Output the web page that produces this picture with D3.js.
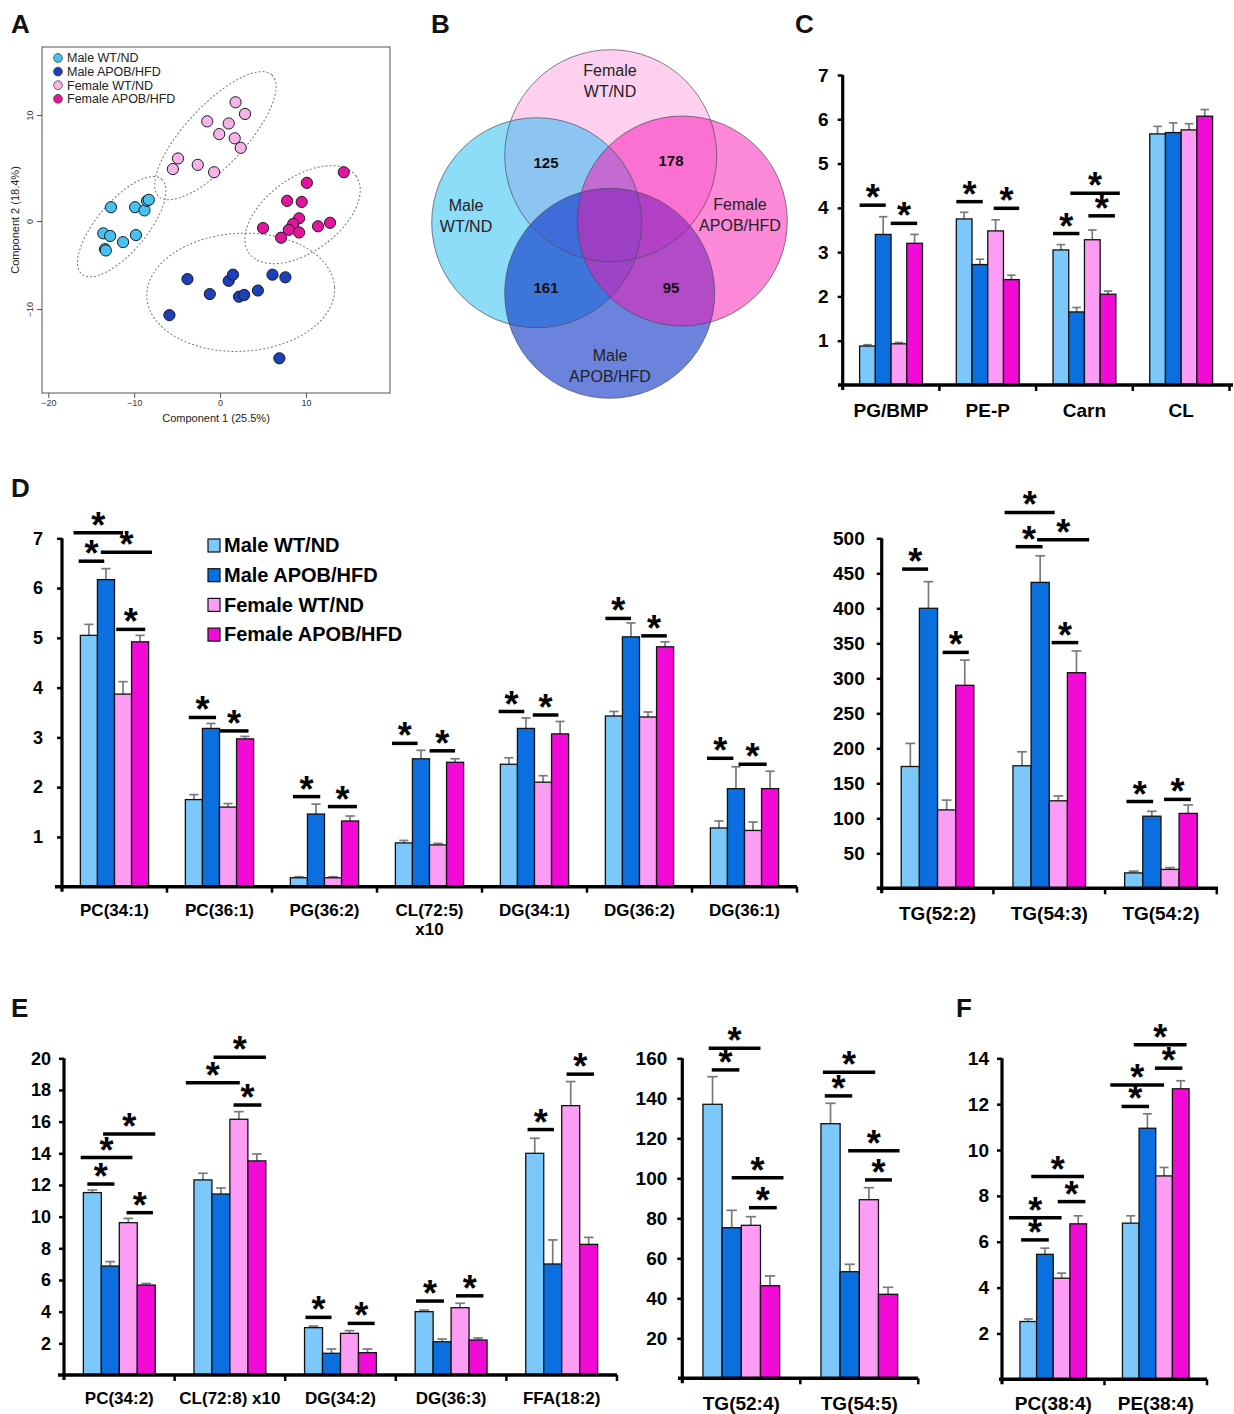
<!DOCTYPE html>
<html><head><meta charset="utf-8">
<script src="https://cdn.jsdelivr.net/npm/d3@7"></script>
<style>
body{margin:0;background:#fff;}
svg{display:block;font-family:"Liberation Sans",Arial,sans-serif;}
</style></head><body>
<svg id="fig" width="1234" height="1414"></svg>
<script>
// ---------------- DATA ----------------
const groups = ["Male WT/ND","Male APOB/HFD","Female WT/ND","Female APOB/HFD"];
const barColors = ["#7cc8fa","#0b6fe0","#fd9cf5","#f20ad6"];
const pcaColors = ["#45c3ee","#1c40b8","#f7b3e6","#e3159b"];

// Panel A : PCA scores [component1, component2]
const pcaMaleWT = [[-12.7,1.3],[-9.9,1.3],[-8.8,1.0],[-8.5,1.9],[-8.3,2.0],[-13.6,-1.4],[-12.8,-1.7],[-9.8,-1.6],[-11.3,-2.4],[-13.4,-3.2],[-13.3,-3.35]];
const pcaMaleAPOB = [[-3.8,-6.6],[-1.2,-8.3],[1.0,-6.8],[1.5,-6.1],[2.2,-8.6],[2.8,-8.4],[4.4,-7.9],[6.1,-6.1],[7.6,-6.4],[-5.9,-10.7],[6.9,-15.6]];
const pcaFemaleWT = [[1.8,11.2],[2.9,10.1],[-1.5,9.4],[1.0,9.2],[-0.1,8.2],[1.7,7.8],[2.4,6.9],[-4.9,5.9],[-5.5,4.9],[-2.6,5.3],[-0.7,4.6]];
const pcaFemaleAPOB = [[14.4,4.6],[10.1,3.6],[7.8,1.9],[9.5,1.8],[9.2,0.25],[8.5,-0.34],[8.0,-1.0],[9.2,-1.3],[11.4,-0.6],[12.8,-0.2],[5.0,-0.8],[7.1,-1.9]];
const pcaXTicks = [-20,-10,0,10];
const pcaYTicks = [-10,0,10];
// ellipse centres in component units (group index, c1, c2)
const pcaEllipseCentres = [[0,-11.45,-0.65],[2,-0.55,8.05],[3,9.6,0.6],[1,2.4,-8.1]];

// Panel B : Venn
const vennSets = ["Male\nWT/ND","Female\nWT/ND","Male\nAPOB/HFD","Female\nAPOB/HFD"];
const vennCounts = [125,178,161,95];

// Panel C
const cCats = ["PG/BMP","PE-P","Carn","CL"];
const cMeans = [[0.88,3.4,0.93,3.2],[3.75,2.72,3.48,2.38],[3.05,1.65,3.28,2.05],[5.67,5.7,5.76,6.07]];
const cErrs = [[0.03,0.4,0.03,0.2],[0.15,0.12,0.25,0.1],[0.12,0.1,0.22,0.07],[0.17,0.22,0.14,0.15]];
const cTicks = [1,2,3,4,5,6,7];
// significance: [category, from-slot, to-slot, value]
const cSigs = [[0,0,1.66,4.06],[0,1.98,3.66,3.65],[1,0,1.68,4.14],[1,2.38,4.0,3.99],[2,0,1.68,3.42],[2,1.1,4.25,4.33],[2,2.25,3.94,3.82]];

// Panel D left
const dCats = ["PC(34:1)","PC(36:1)","PG(36:2)","CL(72:5)\nx10","DG(34:1)","DG(36:2)","DG(36:1)"];
const dMeans = [[5.05,6.17,3.87,4.92],[1.75,3.18,1.6,2.97],[0.18,1.46,0.18,1.32],[0.88,2.57,0.84,2.5],[2.46,3.18,2.1,3.07],[3.43,5.02,3.41,4.82],[1.18,1.97,1.13,1.97]];
const dErrs = [[0.22,0.22,0.25,0.13],[0.1,0.1,0.07,0.05],[0.02,0.2,0.02,0.1],[0.05,0.17,0.03,0.07],[0.13,0.21,0.13,0.25],[0.09,0.28,0.1,0.1],[0.14,0.44,0.17,0.35]];
const dTicks = [1,2,3,4,5,6,7];
const dSigs = [[0,-0.4,2.5,7.11],[0,-0.1,1.4,6.54],[0,1.2,4.2,6.72],[0,2.1,3.8,5.17],[1,0.2,1.8,3.4],[1,2.0,3.7,3.13],[2,0.15,1.75,1.81],[2,2.2,3.9,1.61],[3,-0.2,1.3,2.88],[3,2.0,3.5,2.73],[4,-0.1,1.4,3.52],[4,1.9,3.4,3.45],[5,0,1.5,5.39],[5,2.1,3.6,5.04],[6,-0.2,1.35,2.58],[6,1.65,3.3,2.46]];

// Panel D right
const dtCats = ["TG(52:2)","TG(54:3)","TG(54:2)"];
const dtMeans = [[174,400,112,290],[175,437,125,308],[22,103,27,107]];
const dtErrs = [[33,38,14,36],[20,38,7,31],[2.5,7,2.5,12]];
const dtTicks = [50,100,150,200,250,300,350,400,450,500];
const dtSigs = [[0,0.05,1.48,456],[0,2.28,3.72,337],[1,-0.46,2.3,537],[1,0.15,1.63,488],[1,1.33,4.2,498],[1,2.13,3.6,351],[2,0.1,1.57,124],[2,2.17,3.65,127]];

// Panel E left
const eCats = ["PC(34:2)","CL(72:8) x10","DG(34:2)","DG(36:3)","FFA(18:2)"];
const eMeans = [[11.52,6.88,9.62,5.68],[12.32,11.43,16.15,13.52],[2.99,1.37,2.63,1.41],[4.0,2.1,4.25,2.21],[14.0,7.01,17.01,8.25]];
const eErrs = [[0.16,0.28,0.27,0.1],[0.42,0.38,0.48,0.44],[0.1,0.27,0.17,0.23],[0.1,0.17,0.28,0.13],[0.95,1.52,1.52,0.44]];
const eTicks = [2,4,6,8,10,12,14,16,18,20];
const eSigs = [[0,0.22,1.73,12.06],[0,-0.15,2.73,13.73],[0,1.1,4.0,15.22],[0,2.4,3.87,10.25],[1,-0.45,2.55,18.46],[1,1.09,4.0,20.06],[1,2.2,3.75,17.05],[2,0.05,1.5,3.64],[2,2.4,3.9,3.26],[3,0.05,1.6,4.67],[3,2.27,3.8,5.0],[4,0.1,1.57,15.5],[4,2.27,3.8,19.0]];

// Panel E right
const etCats = ["TG(52:4)","TG(54:5)"];
const etMeans = [[137,75.3,76.5,46.3],[127.3,53.3,89.3,42]];
const etErrs = [[13.8,8.7,4.3,4.9],[10.2,3.7,6,3.5]];
const etTicks = [20,40,60,80,100,120,140,160];
const etSigs = [[0,0.3,3.0,165],[0,0.46,1.9,154.2],[0,1.5,4.2,100.3],[0,2.4,3.85,85.3],[1,0.1,2.83,153],[1,0.2,1.63,141.2],[1,1.42,4.1,113.8],[1,2.3,3.7,99.2]];

// Panel F
const fCats = ["PC(38:4)","PE(38:4)"];
const fMeans = [[2.52,5.45,4.41,6.78],[6.81,10.95,8.87,12.67]];
const fErrs = [[0.11,0.27,0.22,0.35],[0.32,0.63,0.37,0.35]];
const fTicks = [2,4,6,8,10,12,14];
const fSigs = [[0,0.07,1.73,6.08],[0,-0.66,2.5,7.05],[0,0.68,3.85,8.84],[0,2.27,3.93,7.75],[1,-0.05,1.6,11.9],[1,-0.73,2.5,12.84],[1,0.68,3.85,14.59],[1,1.95,3.6,13.57]];

// ---------------- DRAWING ----------------
const svg = d3.select("#fig");
const FONT = "'Liberation Sans',Arial,sans-serif";

// panel letters
[["A",11,33],["B",431,33],["C",795,33],["D",11,497],["E",11,1017],["F",956,1017]].forEach(([t,x,y])=>{
  svg.append("text").attr("x",x).attr("y",y).text(t).attr("font-size",26).attr("font-weight","bold").attr("fill","#111");
});

// ===== Panel A =====
(function(){
  const g = svg.append("g");
  const x = d3.scaleLinear().domain([-20,10]).range([48.3,306]);
  const y = d3.scaleLinear().domain([-10,0,10]).range([309,221,115]);
  const left=42,right=390,top=47,bottom=393;
  g.append("rect").attr("x",left).attr("y",top).attr("width",right-left).attr("height",bottom-top)
    .attr("fill","none").attr("stroke","#555").attr("stroke-width",1);
  const xa = g.append("g").attr("transform",`translate(0,${bottom})`)
    .call(d3.axisBottom(x).tickValues(pcaXTicks).tickSize(5).tickPadding(2).tickFormat(d=>d<0?"\u2212"+(-d):d));
  xa.select(".domain").remove();
  xa.selectAll("line").attr("stroke","#555");
  xa.selectAll("text").attr("font-size",9).attr("font-family",FONT).attr("fill","#333");
  const ya = g.append("g").attr("transform",`translate(${left},0)`)
    .call(d3.axisLeft(y).tickValues(pcaYTicks).tickSize(5).tickFormat(d=>d<0?"\u2212"+(-d):d));
  ya.select(".domain").remove();
  ya.selectAll("line").attr("stroke","#555");
  ya.selectAll("text").attr("font-size",9).attr("font-family",FONT).attr("fill","#333")
    .attr("text-anchor","middle").attr("transform","translate(-12,0) rotate(-90)").attr("x",0).attr("y",0).attr("dy","0.32em");
  g.append("text").attr("x",216).attr("y",422).attr("text-anchor","middle").attr("font-size",11).attr("fill","#222").text("Component 1 (25.5%)");
  g.append("text").attr("transform","translate(19,220) rotate(-90)").attr("text-anchor","middle").attr("font-size",11).attr("fill","#222").text("Component 2 (18.4%)");

  // ellipse shape parameters: rx, ry in px, rotation in deg
  const ellipseShape = {0:[62,25,-50],2:[83,30,-47],3:[66,37,-36],1:[94,59,-3]};
  g.append("g").selectAll("ellipse").data(pcaEllipseCentres).join("ellipse")
    .attr("transform",d=>`translate(${x(d[1])},${y(d[2])}) rotate(${ellipseShape[d[0]][2]})`)
    .attr("rx",d=>ellipseShape[d[0]][0]).attr("ry",d=>ellipseShape[d[0]][1])
    .attr("fill","none").attr("stroke","#777").attr("stroke-width",1).attr("stroke-dasharray","2,2");

  const sets = [pcaMaleWT,pcaMaleAPOB,pcaFemaleWT,pcaFemaleAPOB];
  sets.forEach((pts,gi)=>{
    g.append("g").selectAll("circle").data(pts).join("circle")
      .attr("cx",d=>x(d[0])).attr("cy",d=>y(d[1])).attr("r",5.6)
      .attr("fill",pcaColors[gi]).attr("stroke","#1a1a2a").attr("stroke-width",1);
  });
  // legend
  const lg = g.append("g").selectAll("g").data(groups).join("g")
    .attr("transform",(d,i)=>`translate(58,${58+i*13.6})`);
  lg.append("circle").attr("r",4.4).attr("fill",(d,i)=>pcaColors[i]).attr("stroke","#333").attr("stroke-width",0.7);
  lg.append("text").attr("x",9).attr("dy","0.35em").attr("font-size",12.5).attr("fill","#222").text(d=>d);
})();

// ===== Panel B : Venn =====
(function(){
  const g = svg.append("g");
  const circ = [
    {cx:610.7,cy:155.7,r:106,fill:"#fba1e1",a:0.5},   // Female WT/ND
    {cx:536.7,cy:222.7,r:105,fill:"#1bb9f1",a:0.5},   // Male WT/ND
    {cx:609.7,cy:293.3,r:105,fill:"#0a30c8",a:0.6},   // Male APOB/HFD
    {cx:682.3,cy:221,r:105,fill:"#f911b1",a:0.5}      // Female APOB/HFD
  ];
  g.selectAll("circle.f").data(circ).join("circle").attr("class","f")
    .attr("cx",d=>d.cx).attr("cy",d=>d.cy).attr("r",d=>d.r).attr("fill",d=>d.fill).attr("fill-opacity",d=>d.a);
  g.selectAll("circle.s").data(circ).join("circle").attr("class","s")
    .attr("cx",d=>d.cx).attr("cy",d=>d.cy).attr("r",d=>d.r).attr("fill","none").attr("stroke","#4a4a5a").attr("stroke-width",0.7);
  const labelPos = [[466,211],[610,76],[610,361],[740,210]];
  vennSets.forEach((s,i)=>{
    const t = g.append("text").attr("x",labelPos[i][0]).attr("y",labelPos[i][1]).attr("text-anchor","middle").attr("font-size",16).attr("fill","#222");
    s.split("\n").forEach((ln,k)=>t.append("tspan").attr("x",labelPos[i][0]).attr("dy",k?21:0).text(ln));
  });
  const numPos = [[546,168],[671,166],[546,293],[671,293]];
  g.selectAll("text.n").data(vennCounts).join("text").attr("class","n")
    .attr("x",(d,i)=>numPos[i][0]).attr("y",(d,i)=>numPos[i][1]).attr("text-anchor","middle")
    .attr("font-size",15).attr("font-weight","bold").attr("fill","#111").text(d=>d);
})();

// ===== generic bar panel =====
function barPanel(o){
  const g = svg.append("g");
  const n = o.cats.length;
  const x = d3.scaleBand().domain(d3.range(n)).range([o.x0, o.x0 + o.band*n]);
  const y = d3.scaleLinear().domain([0,o.yMax]).range([o.base,o.yTop]);
  const bw = x.bandwidth(), inner = bw*0.65, slot = inner/4;
  const gx = i => x(i) + (bw-inner)/2;
  const recs = [];
  o.values.forEach((row,ci)=>row.forEach((v,si)=>recs.push({ci,si,v,e:o.errors[ci][si]})));
  const cx = d => gx(d.ci)+(d.si+0.5)*slot;
  // error bars
  const eb = g.append("g").attr("stroke","#7a7a7a").attr("stroke-width",1.7);
  eb.selectAll("line.v").data(recs).join("line").attr("class","v")
    .attr("x1",cx).attr("x2",cx).attr("y1",d=>y(d.v)).attr("y2",d=>y(d.v+d.e));
  eb.selectAll("line.c").data(recs).join("line").attr("class","c")
    .attr("x1",d=>cx(d)-slot*0.27).attr("x2",d=>cx(d)+slot*0.27).attr("y1",d=>y(d.v+d.e)).attr("y2",d=>y(d.v+d.e));
  // bars
  g.append("g").selectAll("rect").data(recs).join("rect")
    .attr("x",d=>gx(d.ci)+d.si*slot).attr("width",slot)
    .attr("y",d=>y(d.v)).attr("height",d=>y(0)-y(d.v))
    .attr("fill",d=>barColors[d.si]).attr("stroke","#111").attr("stroke-width",1.3);
  // y axis
  const ya = g.append("g").attr("transform",`translate(${o.x0},0)`)
    .call(d3.axisLeft(y).tickValues(o.ticks).tickSize(5).tickSizeOuter(0).tickPadding(o.pad||9).tickFormat(d3.format("d")));
  ya.select(".domain").remove();
  ya.selectAll(".tick line").attr("stroke","#000").attr("stroke-width",2.5);
  ya.selectAll(".tick text").attr("font-size",o.tickFont).attr("font-weight","bold").attr("fill","#000").attr("font-family",FONT);
  g.append("line").attr("x1",o.x0).attr("x2",o.x0).attr("y1",o.base+5).attr("y2",y(o.yMax))
    .attr("stroke","#000").attr("stroke-width",3.2);
  // x axis
  g.append("line").attr("x1",o.xa0).attr("x2",o.xa1).attr("y1",o.base).attr("y2",o.base)
    .attr("stroke","#000").attr("stroke-width",3.6);
  g.append("g").selectAll("line").data(d3.range(1,n+1)).join("line")
    .attr("x1",i=>x(i-1)+bw).attr("x2",i=>x(i-1)+bw).attr("y1",o.base).attr("y2",o.base+6)
    .attr("stroke","#000").attr("stroke-width",2.5);
  // category labels
  const lab = g.append("g").selectAll("text").data(o.cats).join("text")
    .attr("x",(d,i)=>x(i)+bw/2).attr("y",o.labelY).attr("text-anchor","middle")
    .attr("font-size",o.labFont).attr("font-weight","bold").attr("fill","#000");
  lab.each(function(d,i){
    const t = d3.select(this);
    d.split("\n").forEach((ln,k)=>t.append("tspan").attr("x",x(i)+bw/2).attr("dy",k?o.labFont*1.1:0).text(ln));
  });
  // significance
  const sg = g.append("g");
  sg.selectAll("line").data(o.sigs).join("line")
    .attr("x1",d=>gx(d[0])+d[1]*slot).attr("x2",d=>gx(d[0])+d[2]*slot)
    .attr("y1",d=>y(d[3])).attr("y2",d=>y(d[3]))
    .attr("stroke","#000").attr("stroke-width",3.5);
  sg.selectAll("text").data(o.sigs).join("text")
    .attr("x",d=>gx(d[0])+(d[1]+d[2])/2*slot).attr("y",d=>y(d[3])+5)
    .attr("text-anchor","middle").attr("font-size",36).attr("font-weight","bold").attr("fill","#000").text("*");
  return {x,y};
}

barPanel({cats:cCats,values:cMeans,errors:cErrs,sigs:cSigs,ticks:cTicks,yMax:7,
  x0:842.7,band:96.7,base:385,yTop:75,xa0:838,xa1:1233,labelY:417,labFont:19,tickFont:19,pad:9});

barPanel({cats:dCats,values:dMeans,errors:dErrs,sigs:dSigs,ticks:dTicks,yMax:7,
  x0:62,band:105,base:886.7,yTop:538.3,xa0:55,xa1:797,labelY:916,labFont:17,tickFont:18,pad:14});

barPanel({cats:dtCats,values:dtMeans,errors:dtErrs,sigs:dtSigs,ticks:dtTicks,yMax:500,
  x0:881.7,band:111.7,base:888.3,yTop:538.3,xa0:876.7,xa1:1218,labelY:920,labFont:19,tickFont:19,pad:12});

barPanel({cats:eCats,values:eMeans,errors:eErrs,sigs:eSigs,ticks:eTicks,yMax:20,
  x0:64,band:110.6,base:1375,yTop:1058.3,xa0:58,xa1:617,labelY:1404,labFont:17,tickFont:18,pad:8});

barPanel({cats:etCats,values:etMeans,errors:etErrs,sigs:etSigs,ticks:etTicks,yMax:160,
  x0:682.3,band:118,base:1378.3,yTop:1058.3,xa0:678,xa1:918,labelY:1410,labFont:19,tickFont:19,pad:10});

barPanel({cats:fCats,values:fMeans,errors:fErrs,sigs:fSigs,ticks:fTicks,yMax:14,
  x0:1002,band:102.5,base:1379.3,yTop:1058.3,xa0:999,xa1:1207,labelY:1410,labFont:19,tickFont:19,pad:8});

// legend for panel D
(function(){
  const lg = svg.append("g").selectAll("g").data(groups).join("g")
    .attr("transform",(d,i)=>`translate(208,${545+i*29.7})`);
  lg.append("rect").attr("x",0).attr("y",-6).attr("width",12).attr("height",13)
    .attr("fill",(d,i)=>barColors[i]).attr("stroke","#111").attr("stroke-width",1.2);
  lg.append("text").attr("x",16).attr("dy","0.36em").attr("font-size",20).attr("font-weight","bold").attr("fill","#000").text(d=>d);
})();
</script>
</body></html>
